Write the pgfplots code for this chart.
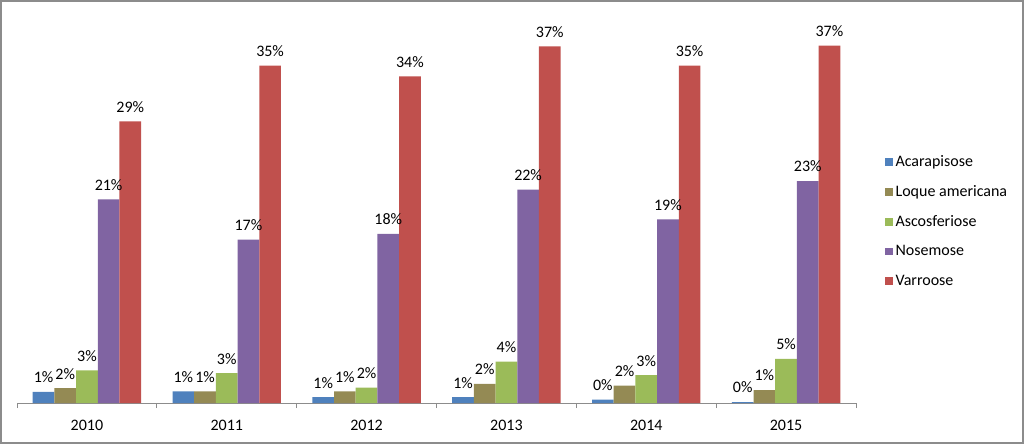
\documentclass[border=0pt]{standalone}
\usepackage{pgfplots}
\pgfplotsset{compat=1.18}
\usepackage{fontspec}
\setmainfont{Carlito}
\definecolor{cA}{HTML}{4F81BD}
\definecolor{cB}{HTML}{948A54}
\definecolor{cC}{HTML}{9BBB59}
\definecolor{cD}{HTML}{8064A2}
\definecolor{cE}{HTML}{C0504D}
\definecolor{frame}{HTML}{8C8C8C}
\begin{document}
\begin{tikzpicture}[x=1pt,y=1pt]
\draw[line width=1.5pt, frame] (0.75,0.75) rectangle (767.25,332.25);
\begin{axis}[
  at={(12.75pt,30.75pt)}, anchor=south west,
  scale only axis,
  width=629.25pt, height=295.5pt,
  ybar=0pt, bar width=0.155,
  xmin=-0.5, xmax=5.5, ymin=0, ymax=41,
  axis y line=none,
  axis x line*=bottom,
  x axis line style={-, frame, line width=0.6pt},
  xtick={0,1,2,3,4,5},
  xticklabels={2010,2011,2012,2013,2014,2015},
  major tick length=0pt,
  minor xtick={-0.5,0.5,1.5,2.5,3.5,4.5,5.5},
  minor tick length=3.75pt,
  tick align=outside,
  minor tick style={frame, line width=0.6pt},
  xticklabel style={font=\fontsize{12}{14}\selectfont, yshift=-9pt},
  /pgf/number format/assume math mode=true,
  nodes near coords={\pgfmathprintnumber[fixed,precision=0,assume math mode=true]{\pgfplotspointmeta}\%},
  every node near coord/.append style={font=\fontsize{12}{14}\selectfont, black, inner sep=2.5pt, yshift=4pt},
  legend style={at={(1.03,0.643)}, anchor=north west, draw=none, font=\fontsize{12}{14}\selectfont, row sep=8.8pt, cells={anchor=west}},
  legend cell align=left,
  legend image code/.code={\fill[#1] (0pt,-2.8pt) rectangle (5.6pt,2.8pt);},
  clip=false,
]
\addplot[fill=cA, draw=none] coordinates {(0,1.17) (1,1.2) (2,0.6) (3,0.6) (4,0.35) (5,0.1)};
\addplot[fill=cB, draw=none] coordinates {(0,1.55) (1,1.2) (2,1.2) (3,2.0) (4,1.8) (5,1.35)};
\addplot[fill=cC, draw=none] coordinates {(0,3.4) (1,3.1) (2,1.6) (3,4.3) (4,2.9) (5,4.6)};
\addplot[fill=cD, draw=none] coordinates {(0,21.2) (1,17.0) (2,17.6) (3,22.2) (4,19.1) (5,23.1)};
\addplot[fill=cE, draw=none] coordinates {(0,29.3) (1,35.1) (2,34.0) (3,37.1) (4,35.1) (5,37.2)};
\legend{Acarapisose, Loque americana, Ascosferiose, Nosemose, Varroose}
\end{axis}
\end{tikzpicture}
\end{document}
